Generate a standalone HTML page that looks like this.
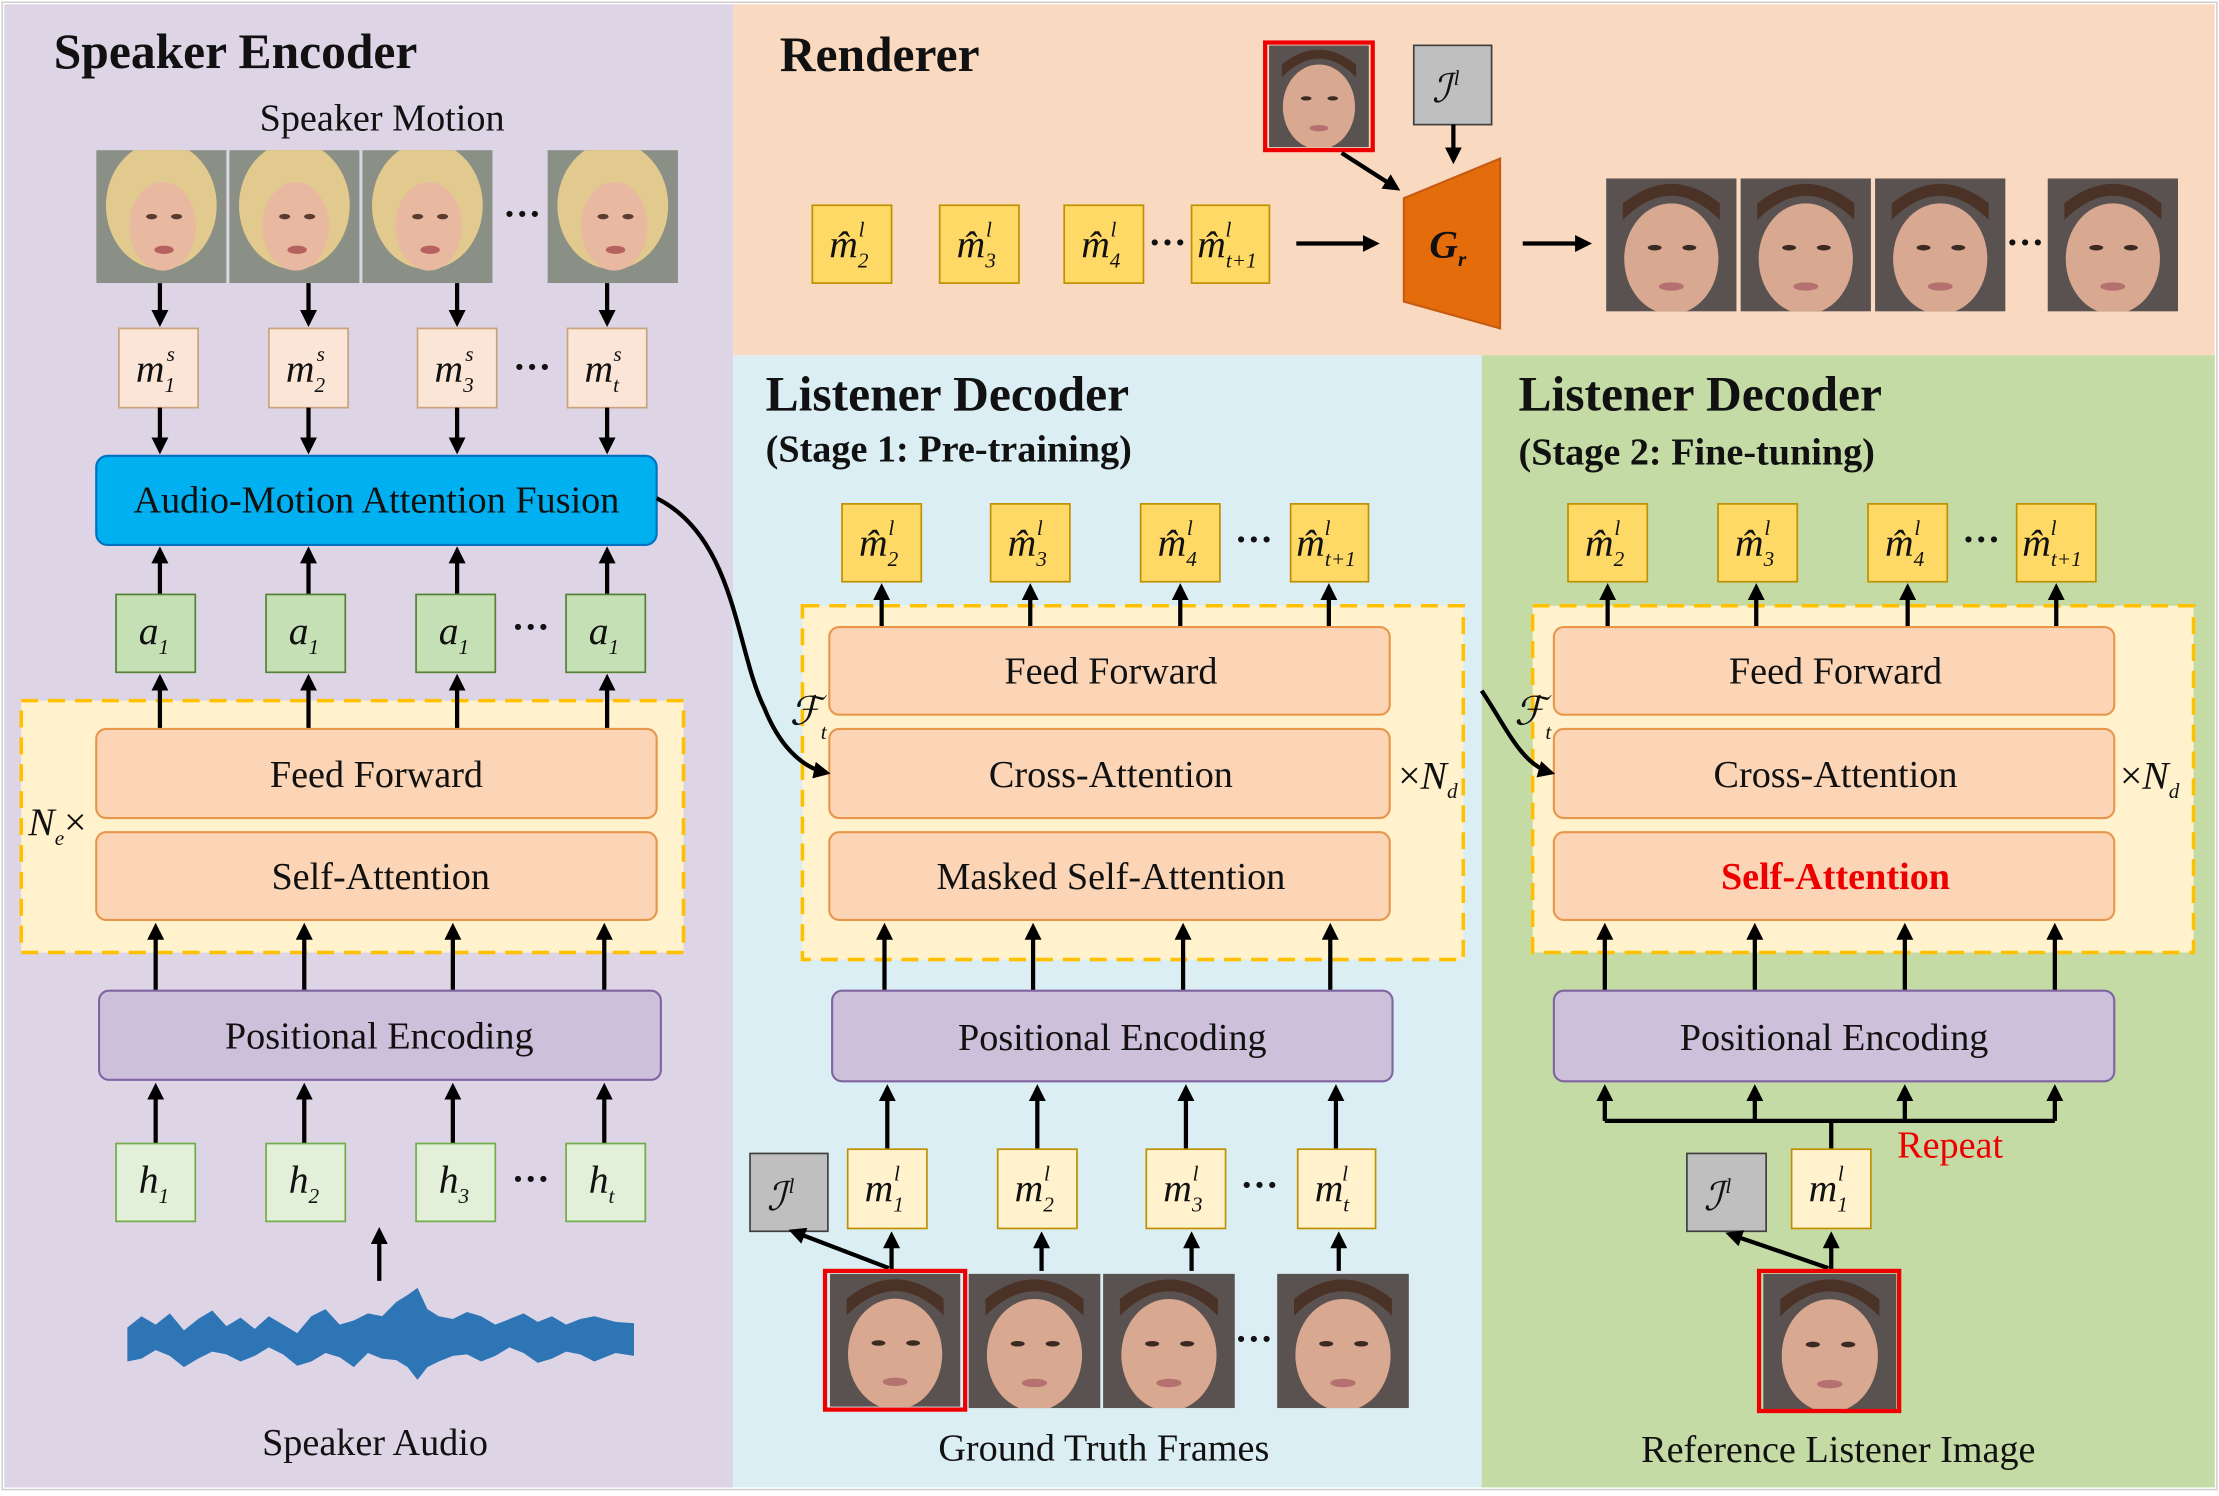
<!DOCTYPE html>
<html><head><meta charset="utf-8"><style>
html,body{margin:0;padding:0;background:#fff}
svg{display:block}
text{font-family:"Liberation Serif",serif;fill:#111}
.t{font-size:35px;font-weight:bold}
.st{font-size:27px;font-weight:bold}
.l{font-size:27px}
.v{font-size:28px;font-style:italic}
.s{font-size:15px;font-style:italic}
.sn{font-size:15px}
.ms{fill:#fbe5d6;stroke:#c9a27e;stroke-width:1.2}
.mh{fill:#ffd966;stroke:#bf9000;stroke-width:1.2}
.ml{fill:#fff2cc;stroke:#bf9000;stroke-width:1.2}
.ab{fill:#c5e0b4;stroke:#548235;stroke-width:1.2}
.hb{fill:#e2f0d9;stroke:#70ad47;stroke-width:1.2}
.ib{fill:#bfbfbf;stroke:#404040;stroke-width:1.2}
.ob{fill:#fbd5b5;stroke:#e8964c;stroke-width:1.5}
.pe{fill:#ccc0da;stroke:#8064a2;stroke-width:1.5}
.dr{fill:#fff2cc;stroke:#ffc000;stroke-width:2.5;stroke-dasharray:12 7}
.ar{stroke:#000;stroke-width:3;fill:none;marker-end:url(#ah)}
</style></head><body>
<svg width="2219" height="1496" viewBox="0 0 1568 1057" xmlns="http://www.w3.org/2000/svg">
<defs>
<marker id="ah" markerWidth="4" markerHeight="4" refX="3" refY="2" orient="auto"><path d="M0,0 L4,2 L0,4 z" fill="#000"/></marker>
<symbol id="fm" viewBox="0 0 94 96"><rect width="94" height="96" fill="#8a9085"/><ellipse cx="47" cy="40" rx="40" ry="46" fill="#e2c98e"/><ellipse cx="48" cy="55" rx="24" ry="32" fill="#e8b9a0"/><ellipse cx="40" cy="48" rx="4" ry="2" fill="#5a3c30"/><ellipse cx="58" cy="48" rx="4" ry="2" fill="#5a3c30"/><ellipse cx="49" cy="72" rx="7" ry="3" fill="#b76060"/></symbol>
<symbol id="mm" viewBox="0 0 94 96"><rect width="94" height="96" fill="#5a5250"/><ellipse cx="47" cy="58" rx="34" ry="40" fill="#d8a891"/><path d="M12,30 Q47,-5 82,30 L82,18 Q47,-10 12,18z" fill="#4a3226"/><ellipse cx="35" cy="50" rx="5" ry="2" fill="#3a2a22"/><ellipse cx="60" cy="50" rx="5" ry="2" fill="#3a2a22"/><ellipse cx="47" cy="78" rx="9" ry="3" fill="#b57070"/></symbol>
</defs>
<rect width="1568" height="1057" fill="#fff"/>
<rect x="3" y="3" width="515" height="1048" fill="#ddd5e6"/>
<rect x="518" y="3" width="1047" height="248" fill="#fad9c1"/>
<rect x="518" y="251" width="529" height="800" fill="#dbeef3"/>
<rect x="1047" y="251" width="518" height="800" fill="#c5dba5"/>

<!-- Speaker Encoder -->
<text x="38" y="48" class="t">Speaker Encoder</text>
<text x="270" y="92" class="l" text-anchor="middle">Speaker Motion</text>
<use href="#fm" x="68" y="106" width="92" height="94"/>
<use href="#fm" x="162" y="106" width="92" height="94"/>
<use href="#fm" x="256" y="106" width="92" height="94"/>
<use href="#fm" x="386" y="106" width="94" height="94"/>
<text x="369" y="160" class="l" text-anchor="middle" font-weight="bold">···</text>
<path class="ar" d="M113,200V228"/><path class="ar" d="M218,200V228"/><path class="ar" d="M323,200V228"/><path class="ar" d="M429,200V228"/>
<rect class="ms" x="84" y="232" width="56" height="56"/><rect class="ms" x="190" y="232" width="56" height="56"/><rect class="ms" x="295" y="232" width="56" height="56"/><rect class="ms" x="401" y="232" width="56" height="56"/>
<text x="96" y="270" class="v">m<tspan class="sn" dy="7">1</tspan><tspan class="s" dx="-6" dy="-22">s</tspan></text>
<text x="202" y="270" class="v">m<tspan class="sn" dy="7">2</tspan><tspan class="s" dx="-6" dy="-22">s</tspan></text>
<text x="307" y="270" class="v">m<tspan class="sn" dy="7">3</tspan><tspan class="s" dx="-6" dy="-22">s</tspan></text>
<text x="413" y="270" class="v">m<tspan class="s" dy="7">t</tspan><tspan class="s" dx="-4" dy="-22">s</tspan></text>
<text x="376" y="268" class="l" text-anchor="middle" font-weight="bold">···</text>
<path class="ar" d="M113,288V318"/><path class="ar" d="M218,288V318"/><path class="ar" d="M323,288V318"/><path class="ar" d="M429,288V318"/>
<rect x="68" y="322" width="396" height="63" rx="8" fill="#00b0f0" stroke="#0070c0" stroke-width="1.5"/>
<text x="266" y="362" class="l" text-anchor="middle">Audio-Motion Attention Fusion</text>
<path class="ar" d="M113,420V389"/><path class="ar" d="M218,420V389"/><path class="ar" d="M323,420V389"/><path class="ar" d="M429,420V389"/>
<rect class="ab" x="82" y="420" width="56" height="55"/><rect class="ab" x="188" y="420" width="56" height="55"/><rect class="ab" x="294" y="420" width="56" height="55"/><rect class="ab" x="400" y="420" width="56" height="55"/>
<text x="98" y="455" class="v">a<tspan class="sn" dy="7">1</tspan></text><text x="204" y="455" class="v">a<tspan class="sn" dy="7">1</tspan></text><text x="310" y="455" class="v">a<tspan class="sn" dy="7">1</tspan></text><text x="416" y="455" class="v">a<tspan class="sn" dy="7">1</tspan></text>
<text x="375" y="452" class="l" text-anchor="middle" font-weight="bold">···</text>
<rect class="dr" x="15" y="495" width="468" height="178"/>
<path class="ar" d="M113,515V479"/><path class="ar" d="M218,515V479"/><path class="ar" d="M323,515V479"/><path class="ar" d="M429,515V479"/>
<rect class="ob" x="68" y="515" width="396" height="63" rx="7"/><text x="266" y="556" class="l" text-anchor="middle">Feed Forward</text>
<rect class="ob" x="68" y="588" width="396" height="62" rx="7"/><text x="269" y="628" class="l" text-anchor="middle">Self-Attention</text>
<text x="20" y="590" class="v">N<tspan class="s" dy="7">e</tspan><tspan font-style="normal" dy="-7">×</tspan></text>
<path class="ar" d="M110,700V655"/><path class="ar" d="M215,700V655"/><path class="ar" d="M320,700V655"/><path class="ar" d="M427,700V655"/>
<rect class="pe" x="70" y="700" width="397" height="63" rx="7"/><text x="268" y="741" class="l" text-anchor="middle">Positional Encoding</text>
<path class="ar" d="M110,808V768"/><path class="ar" d="M215,808V768"/><path class="ar" d="M320,808V768"/><path class="ar" d="M427,808V768"/>
<rect class="hb" x="82" y="808" width="56" height="55"/><rect class="hb" x="188" y="808" width="56" height="55"/><rect class="hb" x="294" y="808" width="56" height="55"/><rect class="hb" x="400" y="808" width="56" height="55"/>
<text x="98" y="843" class="v">h<tspan class="sn" dy="7">1</tspan></text><text x="204" y="843" class="v">h<tspan class="sn" dy="7">2</tspan></text><text x="310" y="843" class="v">h<tspan class="sn" dy="7">3</tspan></text><text x="416" y="843" class="v">h<tspan class="s" dy="7">t</tspan></text>
<text x="375" y="842" class="l" text-anchor="middle" font-weight="bold">···</text>
<path class="ar" d="M268,905V870"/>
<path d="M90,938 L100,930 L110,936 L120,928 L130,940 L140,932 L150,926 L160,937 L170,931 L180,939 L190,930 L200,936 L210,942 L220,930 L230,925 L240,936 L250,933 L260,928 L270,930 L280,920 L288,915 L295,910 L302,925 L310,930 L320,932 L330,927 L340,930 L350,936 L360,932 L370,928 L380,934 L390,930 L400,936 L410,932 L420,930 L435,934 L448,935 L448,958 L435,956 L420,962 L410,957 L400,955 L390,960 L380,963 L370,956 L360,952 L350,958 L340,962 L330,957 L320,958 L310,962 L302,966 L295,975 L288,966 L280,961 L270,960 L260,956 L250,966 L240,959 L230,956 L220,962 L210,965 L200,957 L190,952 L180,958 L170,962 L160,957 L150,955 L140,960 L130,966 L120,958 L110,954 L100,960 L90,962z" fill="#2e75b6"/>
<text x="265" y="1028" class="l" text-anchor="middle">Speaker Audio</text>

<!-- Renderer -->
<text x="551" y="50" class="t">Renderer</text>
<rect class="mh" x="574" y="145" width="56" height="55"/><rect class="mh" x="664" y="145" width="56" height="55"/><rect class="mh" x="752" y="145" width="56" height="55"/><rect class="mh" x="842" y="145" width="55" height="55"/>
<text x="586" y="182" class="v">m̂<tspan class="sn" dy="7">2</tspan><tspan class="s" dx="-7" dy="-22">l</tspan></text>
<text x="676" y="182" class="v">m̂<tspan class="sn" dy="7">3</tspan><tspan class="s" dx="-7" dy="-22">l</tspan></text>
<text x="764" y="182" class="v">m̂<tspan class="sn" dy="7">4</tspan><tspan class="s" dx="-7" dy="-22">l</tspan></text>
<text x="846" y="182" class="v">m̂<tspan class="s" dy="7">t</tspan><tspan class="sn">+1</tspan><tspan class="s" dx="-22" dy="-22">l</tspan></text>
<text x="825" y="180" class="l" text-anchor="middle" font-weight="bold">···</text>
<path class="ar" d="M916,172H972"/>
<rect x="894" y="30" width="76" height="76" fill="none" stroke="#e00" stroke-width="3"/>
<use href="#mm" x="896" y="32" width="72" height="72"/>
<rect class="ib" x="999" y="32" width="55" height="56"/>
<text x="1012" y="72" class="v">ℐ<tspan class="s" dx="2" dy="-12">l</tspan></text>
<path class="ar" d="M1027,88V113"/><path class="ar" d="M948,108L987,133"/>
<path d="M992,140 L1060,112 L1060,232 L992,213z" fill="#e46c0a" stroke="#c55a11" stroke-width="1.5"/>
<text x="1010" y="182" class="v" font-style="normal" font-weight="bold" fill="#222">G<tspan class="s" dy="6">r</tspan></text>
<path class="ar" d="M1076,172H1122"/>
<use href="#mm" x="1134" y="126" width="94" height="94"/><use href="#mm" x="1229" y="126" width="94" height="94"/><use href="#mm" x="1324" y="126" width="94" height="94"/><use href="#mm" x="1446" y="126" width="94" height="94"/>
<text x="1431" y="180" class="l" text-anchor="middle" font-weight="bold">···</text>

<!-- Stage 1 -->
<text x="541" y="290" class="t">Listener Decoder</text>
<text x="541" y="326" class="st">(Stage 1: Pre-training)</text>
<rect class="mh" x="595" y="356" width="56" height="55"/><rect class="mh" x="700" y="356" width="56" height="55"/><rect class="mh" x="806" y="356" width="56" height="55"/><rect class="mh" x="912" y="356" width="55" height="55"/>
<text x="607" y="393" class="v">m̂<tspan class="sn" dy="7">2</tspan><tspan class="s" dx="-7" dy="-22">l</tspan></text>
<text x="712" y="393" class="v">m̂<tspan class="sn" dy="7">3</tspan><tspan class="s" dx="-7" dy="-22">l</tspan></text>
<text x="818" y="393" class="v">m̂<tspan class="sn" dy="7">4</tspan><tspan class="s" dx="-7" dy="-22">l</tspan></text>
<text x="916" y="393" class="v">m̂<tspan class="s" dy="7">t</tspan><tspan class="sn">+1</tspan><tspan class="s" dx="-22" dy="-22">l</tspan></text>
<text x="886" y="390" class="l" text-anchor="middle" font-weight="bold">···</text>
<rect class="dr" x="567" y="428" width="467" height="250"/>
<path class="ar" d="M623,443V415"/><path class="ar" d="M728,443V415"/><path class="ar" d="M834,443V415"/><path class="ar" d="M939,443V415"/>
<rect class="ob" x="586" y="443" width="396" height="62" rx="7"/><text x="785" y="483" class="l" text-anchor="middle">Feed Forward</text>
<rect class="ob" x="586" y="515" width="396" height="63" rx="7"/><text x="785" y="556" class="l" text-anchor="middle">Cross-Attention</text>
<rect class="ob" x="586" y="588" width="396" height="62" rx="7"/><text x="785" y="628" class="l" text-anchor="middle">Masked Self-Attention</text>
<text x="988" y="557" class="v"><tspan font-style="normal">×</tspan>N<tspan class="s" dy="7">d</tspan></text>
<text x="558" y="512" class="v">ℱ<tspan class="s" dy="10">t</tspan></text>
<path class="ar" d="M464,352 C520,380 520,460 540,500 C550,525 565,542 584,546"/>
<path class="ar" d="M625,700V655"/><path class="ar" d="M730,700V655"/><path class="ar" d="M836,700V655"/><path class="ar" d="M940,700V655"/>
<rect class="pe" x="588" y="700" width="396" height="64" rx="7"/><text x="786" y="742" class="l" text-anchor="middle">Positional Encoding</text>
<path class="ar" d="M627,812V769"/><path class="ar" d="M733,812V769"/><path class="ar" d="M838,812V769"/><path class="ar" d="M944,812V769"/>
<rect class="ml" x="599" y="812" width="56" height="56"/><rect class="ml" x="705" y="812" width="56" height="56"/><rect class="ml" x="810" y="812" width="56" height="56"/><rect class="ml" x="917" y="812" width="55" height="56"/>
<text x="611" y="849" class="v">m<tspan class="sn" dy="7">1</tspan><tspan class="s" dx="-7" dy="-22">l</tspan></text>
<text x="717" y="849" class="v">m<tspan class="sn" dy="7">2</tspan><tspan class="s" dx="-7" dy="-22">l</tspan></text>
<text x="822" y="849" class="v">m<tspan class="sn" dy="7">3</tspan><tspan class="s" dx="-7" dy="-22">l</tspan></text>
<text x="929" y="849" class="v">m<tspan class="s" dy="7">t</tspan><tspan class="s" dx="-5" dy="-22">l</tspan></text>
<text x="890" y="846" class="l" text-anchor="middle" font-weight="bold">···</text>
<rect class="ib" x="530" y="815" width="55" height="55"/>
<text x="542" y="855" class="v">ℐ<tspan class="s" dx="2" dy="-12">l</tspan></text>
<path class="ar" d="M630,898V873"/><path class="ar" d="M736,898V873"/><path class="ar" d="M842,898V873"/><path class="ar" d="M946,898V873"/><path class="ar" d="M628,896L560,870"/>
<use href="#mm" x="585" y="900" width="95" height="94"/><use href="#mm" x="684" y="900" width="94" height="95"/><use href="#mm" x="779" y="900" width="94" height="95"/><use href="#mm" x="902" y="900" width="94" height="95"/>
<rect x="583" y="898" width="99" height="98" fill="none" stroke="#e00" stroke-width="3"/>
<text x="886" y="955" class="l" text-anchor="middle" font-weight="bold">···</text>
<text x="780" y="1032" class="l" text-anchor="middle">Ground Truth Frames</text>

<!-- Stage 2 -->
<text x="1073" y="290" class="t">Listener Decoder</text>
<text x="1073" y="328" class="st">(Stage 2: Fine-tuning)</text>
<rect class="mh" x="1108" y="356" width="56" height="55"/><rect class="mh" x="1214" y="356" width="56" height="55"/><rect class="mh" x="1320" y="356" width="56" height="55"/><rect class="mh" x="1425" y="356" width="56" height="55"/>
<text x="1120" y="393" class="v">m̂<tspan class="sn" dy="7">2</tspan><tspan class="s" dx="-7" dy="-22">l</tspan></text>
<text x="1226" y="393" class="v">m̂<tspan class="sn" dy="7">3</tspan><tspan class="s" dx="-7" dy="-22">l</tspan></text>
<text x="1332" y="393" class="v">m̂<tspan class="sn" dy="7">4</tspan><tspan class="s" dx="-7" dy="-22">l</tspan></text>
<text x="1429" y="393" class="v">m̂<tspan class="s" dy="7">t</tspan><tspan class="sn">+1</tspan><tspan class="s" dx="-22" dy="-22">l</tspan></text>
<text x="1400" y="390" class="l" text-anchor="middle" font-weight="bold">···</text>
<rect class="dr" x="1083" y="428" width="467" height="245"/>
<path class="ar" d="M1136,443V415"/><path class="ar" d="M1241,443V415"/><path class="ar" d="M1348,443V415"/><path class="ar" d="M1453,443V415"/>
<rect class="ob" x="1098" y="443" width="396" height="62" rx="7"/><text x="1297" y="483" class="l" text-anchor="middle">Feed Forward</text>
<rect class="ob" x="1098" y="515" width="396" height="63" rx="7"/><text x="1297" y="556" class="l" text-anchor="middle">Cross-Attention</text>
<rect class="ob" x="1098" y="588" width="396" height="62" rx="7"/><text x="1297" y="628" class="l" text-anchor="middle" font-weight="bold" style="fill:#e00">Self-Attention</text>
<text x="1498" y="557" class="v"><tspan font-style="normal">×</tspan>N<tspan class="s" dy="7">d</tspan></text>
<text x="1070" y="512" class="v">ℱ<tspan class="s" dy="10">t</tspan></text>
<path class="ar" d="M1047,488 C1065,515 1075,540 1096,546"/>
<path class="ar" d="M1134,700V655"/><path class="ar" d="M1240,700V655"/><path class="ar" d="M1346,700V655"/><path class="ar" d="M1452,700V655"/>
<rect class="pe" x="1098" y="700" width="396" height="64" rx="7"/><text x="1296" y="742" class="l" text-anchor="middle">Positional Encoding</text>
<path d="M1134,792H1452M1294,812V792" stroke="#000" stroke-width="3" fill="none"/>
<path class="ar" d="M1134,792V769"/><path class="ar" d="M1240,792V769"/><path class="ar" d="M1346,792V769"/><path class="ar" d="M1452,792V769"/>
<text x="1378" y="818" class="l" text-anchor="middle" style="fill:#e00">Repeat</text>
<rect class="ml" x="1266" y="812" width="56" height="56"/>
<text x="1278" y="849" class="v">m<tspan class="sn" dy="7">1</tspan><tspan class="s" dx="-7" dy="-22">l</tspan></text>
<rect class="ib" x="1192" y="815" width="56" height="55"/>
<text x="1204" y="855" class="v">ℐ<tspan class="s" dx="2" dy="-12">l</tspan></text>
<path class="ar" d="M1294,898V873"/><path class="ar" d="M1292,896L1222,872"/>
<use href="#mm" x="1245" y="900" width="96" height="96"/>
<rect x="1243" y="898" width="99" height="99" fill="none" stroke="#e00" stroke-width="3"/>
<text x="1299" y="1033" class="l" text-anchor="middle">Reference Listener Image</text>
<rect x="1.5" y="1.5" width="1565" height="1051" fill="none" stroke="#ccc" stroke-width="1"/>
</svg>
</body></html>
